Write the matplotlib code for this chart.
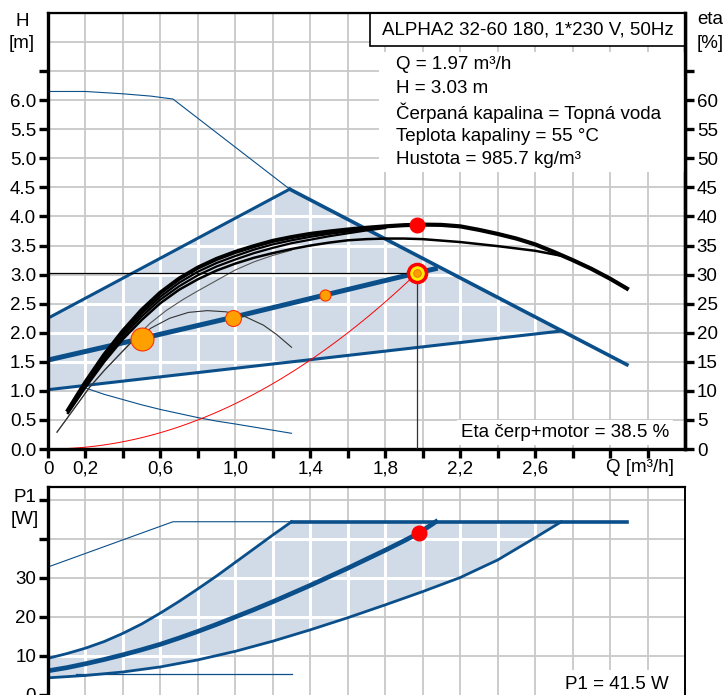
import numpy as np
import matplotlib
matplotlib.use("Agg")
import matplotlib.pyplot as plt
from matplotlib.patches import Polygon, Rectangle

plt.rcParams['font.family'] = ['Liberation Sans', 'DejaVu Sans']

# === DATA: H / eta diagram ===
# shaded operating area (Q [m3/h], H [m])
area_q = [0.0, 0.0, 1.29, 2.74]
area_h = [1.02, 2.25, 4.47, 2.03]
max_line_q = [1.29, 3.09]
max_line_h = [4.47, 1.45]
upper_line_q = [0.0, 1.29]
upper_line_h = [2.25, 4.47]
lower_line_q = [0.0, 2.74]
lower_line_h = [1.02, 2.03]
# proportional pressure curve with operating points
pp_q = [0.0, 0.5, 0.98, 1.48, 1.97, 2.08]
pp_h = [1.53, 1.9, 2.26, 2.65, 3.03, 3.11]
pts_q = [0.5, 0.99, 1.48]
pts_h = [1.89, 2.26, 2.65]
pts_size = [16.5, 11.5, 8.0]
# thin blue limit lines
top_thin_q = [0.0, 0.2, 0.4, 0.55, 0.667, 1.29]
top_thin_h = [6.15, 6.15, 6.11, 6.07, 6.02, 4.47]
low_thin_q = [0.2, 0.3, 0.4, 0.5, 0.6, 0.7, 0.8, 0.9, 1.0, 1.15, 1.3]
low_thin_h = [1.05, 0.94, 0.85, 0.76, 0.68, 0.61, 0.54, 0.48, 0.43, 0.35, 0.27]
# eta curves (eta/10 plotted on H scale)
eta_main_q = [0.107, 0.2, 0.3, 0.4, 0.5, 0.6, 0.7, 0.8, 0.9, 1.0, 1.1, 1.2, 1.3, 1.4, 1.5, 1.6, 1.7,
              1.8, 1.9, 2.0, 2.1, 2.2, 2.3, 2.4, 2.5, 2.6, 2.7, 2.8, 2.9, 3.0, 3.09]
eta_main_h = [0.67, 1.15, 1.62, 2.03, 2.39, 2.69, 2.93, 3.12, 3.27, 3.39, 3.49, 3.58, 3.645, 3.7, 3.74,
              3.775, 3.805, 3.83, 3.85, 3.86, 3.855, 3.83, 3.77, 3.7, 3.62, 3.52, 3.39, 3.25, 3.1, 2.93, 2.76]
eta_b_q = [0.107, 0.2, 0.3, 0.4, 0.5, 0.6, 0.7, 0.8, 0.9, 1.0, 1.1, 1.2, 1.3, 1.4, 1.5, 1.6, 1.7, 1.8,
           1.9, 2.0, 2.2, 2.4, 2.6, 2.73]
eta_b_h = [0.62, 1.06, 1.5, 1.89, 2.22, 2.51, 2.74, 2.92, 3.07, 3.19, 3.29, 3.37, 3.44, 3.5, 3.55, 3.59,
           3.61, 3.62, 3.62, 3.61, 3.56, 3.49, 3.41, 3.33]
eta_c_q = [0.107, 0.2, 0.3, 0.4, 0.5, 0.6, 0.7, 0.8, 0.9, 1.0, 1.1, 1.2, 1.3, 1.4, 1.5, 1.6, 1.7, 1.8]
eta_c_h = [0.66, 1.12, 1.58, 1.98, 2.33, 2.62, 2.86, 3.05, 3.2, 3.32, 3.43, 3.52, 3.59, 3.65, 3.7, 3.74,
           3.78, 3.82]
eta_d_h = [0.64, 1.09, 1.54, 1.94, 2.28, 2.57, 2.8, 2.99, 3.14, 3.26, 3.37, 3.46, 3.54, 3.6, 3.66, 3.71,
           3.76, 3.8]
gray_q = [0.048, 0.1, 0.224, 0.3, 0.368, 0.45, 0.544, 0.63, 0.72, 0.8, 0.9, 1.0, 1.1, 1.2, 1.3]
gray_h = [0.29, 0.52, 1.07, 1.35, 1.58, 1.86, 2.16, 2.38, 2.57, 2.72, 2.9, 3.08, 3.22, 3.33, 3.42]
bell_q = [0.048, 0.1, 0.224, 0.3, 0.368, 0.45, 0.55, 0.65, 0.75, 0.85, 0.95, 1.05, 1.15, 1.22, 1.3]
bell_h = [0.29, 0.52, 1.07, 1.35, 1.58, 1.85, 2.08, 2.25, 2.35, 2.38, 2.36, 2.28, 2.13, 1.97, 1.75]
# duty point
duty_q, duty_h, duty_eta = 1.97, 3.03, 3.85
sys_k = duty_h / duty_q ** 2

# === DATA: P1 diagram ===
p_thin_q = [0.0, 0.667, 1.3]
p_thin_p = [32.8, 44.4, 44.4]
p_max_q = [1.3, 3.09]
p_max_p = [44.4, 44.4]
p_up_q = [0.0, 0.1, 0.2, 0.3, 0.4, 0.5, 0.6, 0.7, 0.8, 0.9, 1.0, 1.1, 1.2, 1.3]
p_up_p = [9.4, 10.6, 12.0, 13.7, 15.8, 18.2, 21.0, 24.0, 27.2, 30.5, 34.0, 37.5, 41.0, 44.4]
p_mid_q = [0.0, 0.1, 0.2, 0.3, 0.4, 0.5, 0.6, 0.7, 0.8, 0.9, 1.0, 1.1, 1.2, 1.3, 1.4, 1.5, 1.6, 1.7,
           1.8, 1.9, 1.98, 2.07]
p_mid_p = [6.2, 7.0, 8.0, 9.1, 10.3, 11.6, 13.0, 14.6, 16.3, 18.1, 20.0, 21.9, 23.9, 26.0, 28.1, 30.3,
           32.5, 34.8, 37.1, 39.5, 41.5, 44.4]
p_low_q = [0.0, 0.2, 0.4, 0.6, 0.8, 1.0, 1.2, 1.4, 1.6, 1.8, 2.0, 2.2, 2.4, 2.6, 2.74]
p_low_p = [4.4, 5.0, 5.9, 7.2, 9.0, 11.2, 13.8, 16.7, 19.8, 23.1, 26.5, 30.1, 34.6, 40.3, 44.4]
p_base_q = [0.15, 1.3]
p_base_p = [5.3, 5.3]
duty_p1 = 41.5

x_ticks = np.round(np.arange(0, 3.21, 0.2), 1)
x_labels = {0.0: "0", 0.2: "0,2", 0.6: "0,6", 1.0: "1,0", 1.4: "1,4", 1.8: "1,8", 2.2: "2,2", 2.6: "2,6"}

BLUE = "#0b4f8a"
FILL = "#d0dbe7"
GRID = "#c8c8c8"
FS = 13.5


def grid_with_fill(ax, xs, ys, patch):
    # gray grid outside, white grid inside the shaded area
    for x in xs:
        ax.axvline(x, color=GRID, lw=1.3, zorder=0.5)
    for y in ys:
        ax.axhline(y, color=GRID, lw=1.3, zorder=0.5)
    ax.add_patch(patch)
    for x in xs:
        ln = ax.axvline(x, color="white", lw=2.2, zorder=1.1)
        ln.set_clip_path(patch)
    for y in ys:
        ln = ax.axhline(y, color="white", lw=2.2, zorder=1.1)
        ln.set_clip_path(patch)


fig = plt.figure(figsize=(7.24, 6.95), dpi=100)

# ---------- H / eta plot ----------
ax = fig.add_axes([48 / 724, 246 / 695, 637 / 724, 436 / 695])
ax.set_xlim(0, 3.4)
ax.set_ylim(0, 7.5)

poly = Polygon(np.column_stack([area_q, area_h]), closed=True, facecolor=FILL, edgecolor="none", zorder=1)
grid_with_fill(ax, x_ticks[1:], np.arange(0.5, 7.01, 0.5), poly)

ax.plot(upper_line_q, upper_line_h, color=BLUE, lw=2.2, zorder=2)
ax.plot(max_line_q, max_line_h, color=BLUE, lw=2.6, zorder=2)
ax.plot(lower_line_q, lower_line_h, color=BLUE, lw=2.2, zorder=2)
ax.plot(top_thin_q, top_thin_h, color=BLUE, lw=0.8, zorder=2)
ax.plot(low_thin_q, low_thin_h, color=BLUE, lw=0.8, zorder=2)
ax.plot(pp_q, pp_h, color=BLUE, lw=3.6, zorder=2, solid_capstyle="butt")

qs = np.linspace(0.07, duty_q, 60)
ax.plot(qs, sys_k * qs ** 2, color="red", lw=0.7, zorder=2)

ax.plot(gray_q, gray_h, color="#555555", lw=0.8, zorder=3)
ax.plot(bell_q, bell_h, color="#333333", lw=0.8, zorder=3)
ax.plot(eta_b_q, eta_b_h, color="black", lw=1.8, zorder=3)
ax.plot(eta_c_q, eta_d_h, color="black", lw=1.6, zorder=3)
ax.plot(eta_c_q, eta_c_h, color="black", lw=1.6, zorder=3)
ax.plot(eta_main_q, eta_main_h, color="black", lw=3.0, zorder=3)

ax.plot([0, duty_q], [duty_h, duty_h], color="black", lw=0.9, zorder=3)
ax.plot([duty_q, duty_q], [0, duty_h], color="#333333", lw=0.9, zorder=3)

for q, h, s in zip(pts_q, pts_h, pts_size):
    ax.plot(q, h, "o", ms=s, mfc="#ffa000", mec="#ff3000", mew=0.8, zorder=5)
ax.plot(duty_q, duty_h, "o", ms=13, mfc="#ffee00", mec="red", mew=2.5, zorder=5)
ax.plot(duty_q, duty_h, "o", ms=5.5, mfc="#ff9a00", mec="#e07000", mew=0.6, zorder=6)
ax.plot(duty_q, duty_eta, "o", ms=10.5, mfc="red", mec="red", zorder=5)

ax.set_xticks(x_ticks)
ax.set_xticklabels([x_labels.get(float(t), "") for t in x_ticks], fontsize=FS)
ax.set_yticks(np.arange(0, 6.51, 0.5))
ax.set_yticklabels([f"{v:.1f}" if v <= 6.0 else "" for v in np.arange(0, 6.51, 0.5)], fontsize=FS)
ax.tick_params(axis="both", direction="out", length=6.5, width=2.4, pad=2, colors="black")
for side in ["left", "bottom", "right"]:
    ax.spines[side].set_linewidth(2.4)
ax.spines["top"].set_linewidth(1.6)

ax2 = ax.twinx()
ax2.set_ylim(0, 75)
ax2.set_yticks(np.arange(0, 66, 5))
ax2.set_yticklabels([str(v) if v <= 60 else "" for v in range(0, 66, 5)], fontsize=FS)
ax2.tick_params(axis="y", direction="out", length=6.5, width=2.4, pad=2)
ax2.spines["right"].set_linewidth(2.4)

# white panel behind the info text
ax.add_patch(Rectangle((0.52, 0.635), 0.48, 0.275, transform=ax.transAxes,
                       facecolor="white", edgecolor="none", zorder=6))
ax.add_patch(Rectangle((0.505, 0.924), 0.495, 0.076, transform=ax.transAxes,
                       facecolor="white", edgecolor="black", lw=1.2, zorder=7, clip_on=False))
ax.text(0.7525, 0.962, "ALPHA2 32-60 180, 1*230 V, 50Hz", transform=ax.transAxes,
        ha="center", va="center", fontsize=FS, zorder=8)
info = ["Q = 1.97 m³/h", "H = 3.03 m", "Čerpaná kapalina = Topná voda",
        "Teplota kapaliny = 55 °C", "Hustota = 985.7 kg/m³"]
for i, line in enumerate(info):
    ax.text(0.546, 0.881 - i * 0.0545, line, transform=ax.transAxes,
            ha="left", va="center", fontsize=FS, zorder=8)
ax.text(0.975, 0.037, "Eta čerp+motor = 38.5 %", transform=ax.transAxes, ha="right",
        va="center", fontsize=FS, zorder=8,
        bbox=dict(facecolor="white", edgecolor="none", pad=3))

fig.text(22 / 724, 1 - 22 / 695, "H", ha="center", va="center", fontsize=FS)
fig.text(22 / 724, 1 - 44 / 695, "[m]", ha="center", va="center", fontsize=FS)
fig.text(697 / 724, 1 - 20 / 695, "eta", ha="left", va="center", fontsize=FS)
fig.text(697 / 724, 1 - 43 / 695, "[%]", ha="left", va="center", fontsize=FS)
fig.text(640 / 724, 1 - 467 / 695, "Q [m³/h]", ha="center", va="center", fontsize=FS)

# ---------- P1 plot ----------
axp = fig.add_axes([48 / 724, -7.8 / 695, 637 / 724, 215.8 / 695])
axp.set_xlim(0, 3.4)
axp.set_ylim(-2, 53.3)

p_area = np.vstack([np.column_stack([p_up_q, p_up_p]),
                    np.column_stack([p_low_q[::-1], p_low_p[::-1]])])
ppoly = Polygon(p_area, closed=True, facecolor=FILL, edgecolor="none", zorder=1)
grid_with_fill(axp, x_ticks[1:], np.arange(10, 51, 10), ppoly)

axp.plot(p_thin_q, p_thin_p, color=BLUE, lw=0.8, zorder=2)
axp.plot(p_max_q, p_max_p, color=BLUE, lw=2.6, zorder=2)
axp.plot(p_up_q, p_up_p, color=BLUE, lw=2.0, zorder=2)
axp.plot(p_low_q, p_low_p, color=BLUE, lw=2.0, zorder=2)
axp.plot(p_mid_q, p_mid_p, color=BLUE, lw=3.4, zorder=2)
axp.plot(p_base_q, p_base_p, color=BLUE, lw=0.9, zorder=2)
axp.plot(duty_q + 0.01, duty_p1, "o", ms=10.5, mfc="red", mec="red", zorder=5)

axp.set_xticks([])
axp.set_yticks(np.arange(0, 51, 10))
axp.set_yticklabels(["0", "10", "20", "30", "", ""], fontsize=FS)
axp.tick_params(axis="y", direction="out", length=6.5, width=2.4, pad=2)
axp.spines["left"].set_linewidth(2.4)
axp.spines["top"].set_linewidth(1.6)
axp.spines["right"].set_linewidth(1.4)
axp.text(0.975, 0.085, "P1 = 41.5 W", transform=axp.transAxes, ha="right", va="center",
         fontsize=FS, zorder=8, bbox=dict(facecolor="white", edgecolor="none", pad=4))

fig.text(25 / 724, 1 - 497 / 695, "P1", ha="center", va="center", fontsize=FS)
fig.text(25 / 724, 1 - 519 / 695, "[W]", ha="center", va="center", fontsize=FS)

fig.savefig("out.png", dpi=100)
